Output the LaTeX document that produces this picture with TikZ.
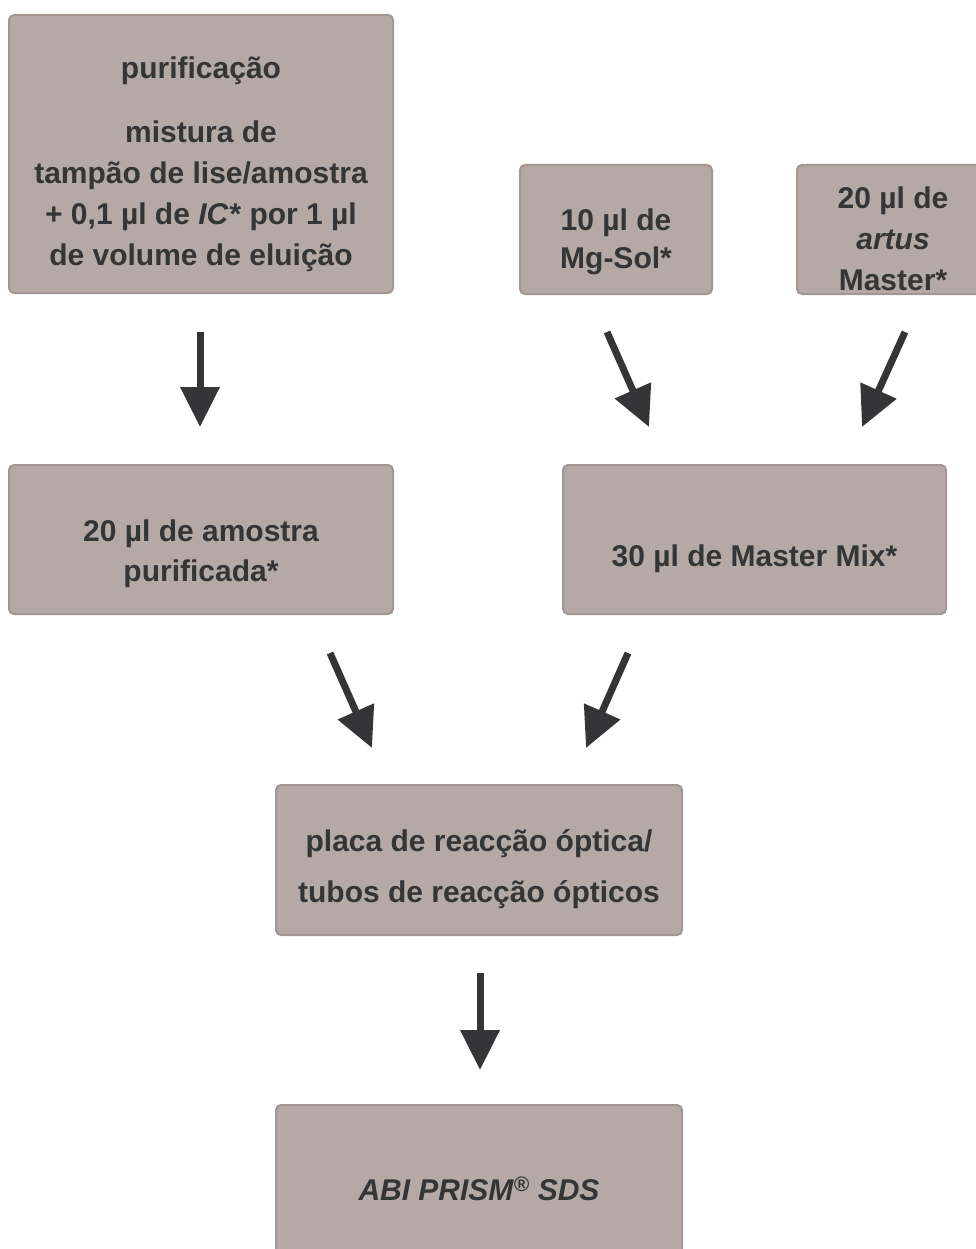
\documentclass[tikz,border=0pt]{standalone}
\usepackage{fontspec}
\setmainfont{Liberation Sans}
\usetikzlibrary{arrows.meta}
\definecolor{boxfill}{RGB}{180,169,165}
\definecolor{boxline}{RGB}{162,150,146}
\definecolor{ink}{RGB}{53,53,55}
\tikzset{
  box/.style={draw=boxline, line width=2pt, fill=boxfill, rounded corners=5pt, inner sep=0pt},
  txt/.style={text=ink, font=\bfseries\fontsize{30}{41}\selectfont, align=center, inner sep=0pt},
  flow/.style={draw=ink, line width=7pt, -{Triangle[width=38pt,length=40pt]}}
}
\begin{document}
\begin{tikzpicture}[x=1pt,y=-1pt]
\useasboundingbox (0,0) rectangle (976,1249);
\clip (0,0) rectangle (976,1249);
% boxes
\node[box, minimum width=384pt, minimum height=278pt] (A) at (201,154) {};
\node[box, minimum width=192pt, minimum height=129pt] (B) at (616,229.5) {};
\node[box, minimum width=192pt, minimum height=129pt] (C) at (893,229.5) {};
\node[box, minimum width=384pt, minimum height=149pt] (D) at (201,539.5) {};
\node[box, minimum width=383pt, minimum height=149pt] (E) at (754.5,539.5) {};
\node[box, minimum width=406pt, minimum height=150pt] (F) at (479,860) {};
\node[box, minimum width=406pt, minimum height=170pt] (G) at (479,1190) {};
% texts
\node[txt] (At) at (201,164) {purificação\\[23pt]mistura de\\tampão de lise/amostra\\+ 0,1 µl de \textit{IC*} por 1 µl\\de volume de eluição};
\node[txt, font=\bfseries\fontsize{30}{38}\selectfont] (Bt) at (616,242) {10 µl de\\Mg-Sol*};
\node[txt] (Ct) at (893,239) {20 µl de\\\textit{artus}\\Master*};
\node[txt, font=\bfseries\fontsize{30}{40}\selectfont] (Dt) at (201,554) {20 µl de amostra\\purificada*};
\node[txt] (Et) at (754.5,559) {30 µl de Master Mix*};
\node[txt, font=\bfseries\fontsize{30}{51}\selectfont] (Ft) at (479,869) {placa de reacção óptica/\\tubos de reacção ópticos};
\node[txt] (Gt) at (479,1189) {\textit{ABI PRISM\textsuperscript{®} SDS}};
% arrow end points
\coordinate (a1) at (200,332);  \coordinate (a2) at (200,427);
\coordinate (b1) at (607,332);  \coordinate (b2) at (649,427);
\coordinate (c1) at (905,332);  \coordinate (c2) at (862,427);
\coordinate (d1) at (330,653);  \coordinate (d2) at (372,748);
\coordinate (e1) at (628,653);  \coordinate (e2) at (586,748);
\coordinate (f1) at (480,973);  \coordinate (f2) at (480,1070);
\draw[flow] (a1) -- (a2);
\draw[flow] (b1) -- (b2);
\draw[flow] (c1) -- (c2);
\draw[flow] (d1) -- (d2);
\draw[flow] (e1) -- (e2);
\draw[flow] (f1) -- (f2);
\end{tikzpicture}
\end{document}
